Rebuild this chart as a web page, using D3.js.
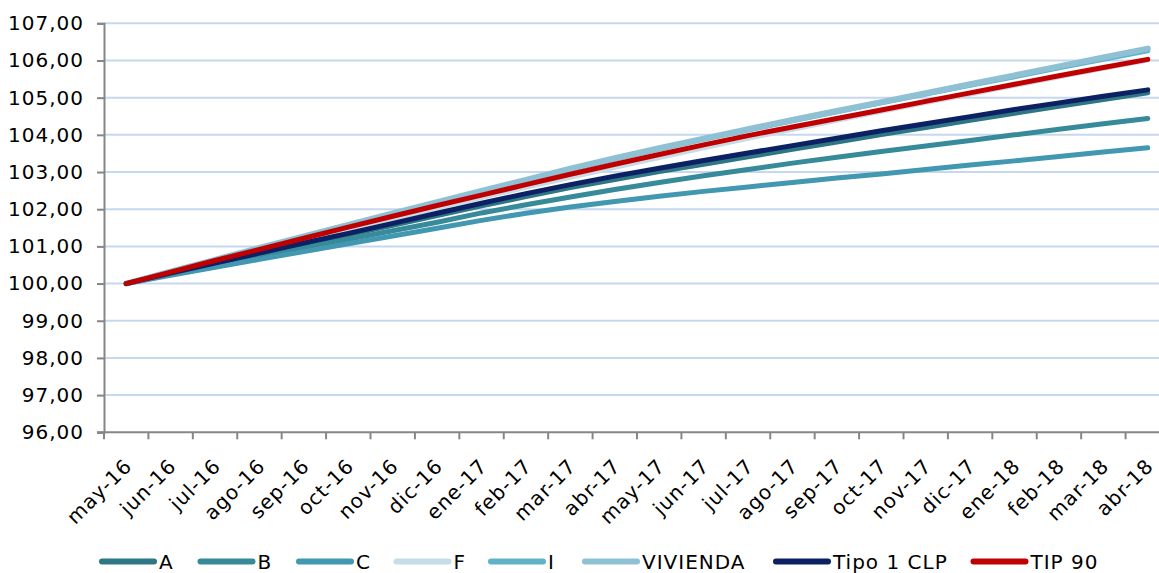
<!DOCTYPE html>
<html><head><meta charset="utf-8">
<script src="https://cdn.jsdelivr.net/npm/d3@7"></script>
<style>
html,body{margin:0;padding:0;background:#fff;overflow:hidden;}
svg{display:block;font-family:"DejaVu Sans",Verdana,sans-serif;}
</style></head>
<body><svg id="c" width="1159" height="573"></svg>
<script>
const months = ["may-16","jun-16","jul-16","ago-16","sep-16","oct-16","nov-16","dic-16","ene-17","feb-17","mar-17","abr-17","may-17","jun-17","jul-17","ago-17","sep-17","oct-17","nov-17","dic-17","ene-18","feb-18","mar-18","abr-18"];
const yTicks = [96,97,98,99,100,101,102,103,104,105,106,107];
const seriesNames = ["A","B","C","F","I","VIVIENDA","Tipo 1 CLP","TIP 90"];
const seriesColors = ["#2E7683","#368A99","#4198B0","#C6DCE6","#5FB2CA","#8EC1D3","#0B2163","#C00000"];
const A = [100.00,100.27,100.54,100.80,101.06,101.31,101.57,101.83,102.09,102.34,102.58,102.80,103.01,103.21,103.41,103.61,103.81,104.01,104.20,104.39,104.58,104.77,104.95,105.13];
const B = [100.00,100.25,100.49,100.73,100.96,101.19,101.42,101.65,101.90,102.12,102.33,102.53,102.72,102.90,103.07,103.24,103.40,103.55,103.70,103.85,104.00,104.15,104.30,104.44];
const C = [100.00,100.22,100.44,100.65,100.86,101.07,101.28,101.49,101.70,101.89,102.06,102.21,102.35,102.48,102.60,102.72,102.84,102.95,103.07,103.19,103.30,103.42,103.54,103.65];
const F = [100.00,100.30,100.60,100.89,101.18,101.47,101.75,102.03,102.31,102.59,102.86,103.13,103.39,103.65,103.91,104.15,104.39,104.63,104.87,105.10,105.33,105.56,105.79,106.01];
const I = [100.00,100.32,100.63,100.95,101.26,101.57,101.88,102.18,102.48,102.78,103.07,103.35,103.62,103.88,104.13,104.38,104.62,104.86,105.10,105.33,105.56,105.80,106.03,106.26];
const VIVIENDA = [100.00,100.32,100.64,100.96,101.27,101.58,101.89,102.19,102.49,102.79,103.09,103.37,103.64,103.90,104.15,104.40,104.64,104.88,105.12,105.36,105.60,105.84,106.08,106.32];
const TIPO1 = [100.00,100.28,100.55,100.82,101.09,101.35,101.62,101.89,102.16,102.42,102.66,102.89,103.10,103.31,103.51,103.71,103.91,104.11,104.30,104.49,104.68,104.86,105.04,105.21];
const TIP90 = [100.00,100.31,100.62,100.92,101.22,101.52,101.81,102.10,102.38,102.66,102.94,103.21,103.47,103.73,103.98,104.21,104.44,104.67,104.90,105.13,105.36,105.59,105.81,106.03];
const seriesValues = [A,B,C,F,I,VIVIENDA,TIPO1,TIP90];

const svg = d3.select("#c");
const mLeft = 104, mTop = 23.3, mBottom = 432.3, mRight = 1170;
const x = d3.scaleBand().domain(months).range([mLeft, mRight]).padding(0);
const y = d3.scaleLinear().domain([96,107]).range([mBottom, mTop]);

// gridlines
svg.append("g").selectAll("line").data(yTicks.filter(t=>t>96)).join("line")
  .attr("x1", mLeft).attr("x2", mRight)
  .attr("y1", d=>y(d)).attr("y2", d=>y(d))
  .attr("stroke", "#C6D8EE").attr("stroke-width", 2);

// y axis
const yAxis = d3.axisLeft(y).tickValues(yTicks).tickSize(7).tickPadding(13)
  .tickFormat(d => d3.format(".2f")(d).replace(".", ","));
const gy = svg.append("g").attr("transform", `translate(${mLeft},0)`).call(yAxis);
gy.select(".domain").attr("stroke", "#868686").attr("stroke-width", 2);
gy.selectAll(".tick line").attr("stroke", "#868686").attr("stroke-width", 2);
gy.selectAll(".tick text").attr("font-size", 20).attr("fill", "#000").attr("letter-spacing", 1)
  .attr("font-family", "DejaVu Sans, Verdana, sans-serif");

// x axis
const xAxis = d3.axisBottom(x).tickSize(0).tickFormat("");
const gx = svg.append("g").attr("transform", `translate(0,${mBottom})`).call(xAxis);
gx.select(".domain").attr("stroke", "#868686").attr("stroke-width", 2).attr("d", `M${mLeft-7},0H${mRight}`);
// tick marks between categories
const bounds = months.map(m => x(m)).concat([x(months[months.length-1]) + x.bandwidth()]);
gx.append("g").selectAll("line").data(bounds).join("line")
  .attr("x1", d=>d).attr("x2", d=>d).attr("y1", 0).attr("y2", 7)
  .attr("stroke", "#868686").attr("stroke-width", 2);
// labels
svg.append("g").selectAll("text").data(months).join("text")
  .attr("transform", d => `translate(${x(d) + x.bandwidth()/2 + 2},${mBottom + 30}) rotate(-45)`)
  .attr("text-anchor", "end").attr("dy", "0.35em").attr("letter-spacing", 1)
  .attr("font-size", 20).attr("fill", "#000").text(d => d);

// lines
const line = d3.line().x((d,i) => x(months[i]) + x.bandwidth()/2).y(d => y(d));
svg.append("g").selectAll("path").data(seriesValues).join("path")
  .attr("d", d => line(d)).attr("fill", "none")
  .attr("stroke", (d,i) => seriesColors[i])
  .attr("stroke-width", (d,i) => seriesNames[i]==="VIVIENDA" ? 6 : 5)
  .attr("stroke-linecap", "round").attr("stroke-linejoin", "round");

// legend
const legendX = [100, 198.5, 297, 394.5, 489, 583, 774, 971.5];
const lg = svg.append("g").selectAll("g").data(seriesNames).join("g")
  .attr("transform", (d,i) => `translate(${legendX[i]},561.5)`);
lg.append("line").attr("x1", 2).attr("x2", 54).attr("y1", 0).attr("y2", 0)
  .attr("stroke", (d,i) => seriesColors[i]).attr("stroke-width", 6).attr("stroke-linecap", "round");
lg.append("text").attr("x", 59).attr("dy", "0.35em").attr("font-size", 20).attr("letter-spacing", 1).attr("fill", "#000").text(d => d);
</script></body></html>
